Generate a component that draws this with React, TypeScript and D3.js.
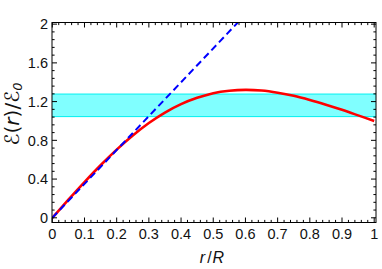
import React from "react";
import * as d3 from "d3";

const rValues = [0, 0.05, 0.1, 0.15, 0.2, 0.25, 0.3, 0.35, 0.4, 0.45, 0.5, 0.55, 0.6, 0.65, 0.7, 0.75, 0.8, 0.85, 0.9, 0.95, 1.0];
const fieldValues = [0, 0.187, 0.369, 0.543, 0.704, 0.85, 0.979, 1.087, 1.174, 1.239, 1.287, 1.312, 1.321, 1.314, 1.292, 1.26, 1.217, 1.168, 1.115, 1.058, 1.0];
const tangentR = [0, 0.62];
const tangentE = [0, 2.17];
const bandRange = [1.045, 1.278];
const xTickValues = [0, 0.1, 0.2, 0.3, 0.4, 0.5, 0.6, 0.7, 0.8, 0.9, 1];
const xTickLabels = ["0", "0.1", "0.2", "0.3", "0.4", "0.5", "0.6", "0.7", "0.8", "0.9", "1"];
const yTickValues = [0, 0.4, 0.8, 1.2, 1.6, 2];
const yTickLabels = ["0", "0.4", "0.8", "1.2", "1.6", "2"];

const W = 382, H = 269;
const L = 52, R = 376, T = 22.5, B = 222.5;

export default function App() {
  const x = d3.scaleLinear().domain([0, 1.0056]).range([L + 0.3, R]);
  const y = d3.scaleLinear().domain([-0.0485, 2.017]).range([B, T]);

  const xMinor = d3.range(0, 1.0001, 0.02).filter((v) => Math.abs(v * 10 - Math.round(v * 10)) > 1e-6);
  const yMinor = d3.range(0, 2.0001, 0.08).filter((v) => Math.abs(v / 0.4 - Math.round(v / 0.4)) > 1e-6);

  const redPts: [number, number][] = rValues.map((r, i) => [r, fieldValues[i]]);
  const bluePts: [number, number][] = tangentR.map((r, i) => [r, tangentE[i]]);
  const line = d3.line<[number, number]>().x((d) => x(d[0])).y((d) => y(d[1])).curve(d3.curveCatmullRom);
  const straight = d3.line<[number, number]>().x((d) => x(d[0])).y((d) => y(d[1]));

  const font = "'Liberation Sans', Arial, sans-serif";
  const maj = 5, mnr = 2.6;

  return (
    <svg width={W} height={H} style={{ position: "absolute", left: 0, top: 0 }}>
      <defs>
        <clipPath id="plotclip">
          <rect x={L} y={T} width={R - L} height={B - T} />
        </clipPath>
      </defs>
      <rect x={0} y={0} width={W} height={H} fill="white" />
      <g clipPath="url(#plotclip)">
        <rect x={L} y={y(bandRange[1])} width={R - L} height={y(bandRange[0]) - y(bandRange[1])} fill="#80FFFF" />
        <line x1={L} x2={R} y1={y(bandRange[1])} y2={y(bandRange[1])} stroke="#00F0F0" strokeWidth={1} />
        <line x1={L} x2={R} y1={y(bandRange[0])} y2={y(bandRange[0])} stroke="#00F0F0" strokeWidth={1} />
        <path d={line(redPts) || ""} fill="none" stroke="#FF0000" strokeWidth={2.6} />
        <path d={straight(bluePts) || ""} fill="none" stroke="#0000FF" strokeWidth={2} strokeDasharray="7,4" />
      </g>
      <rect x={L} y={T} width={R - L} height={B - T} fill="none" stroke="black" strokeWidth={1} />
      {xTickValues.map((v) => (
        <g key={"xt" + v}>
          <line x1={x(v)} x2={x(v)} y1={B} y2={B - maj} stroke="black" />
          <line x1={x(v)} x2={x(v)} y1={T} y2={T + maj} stroke="black" />
        </g>
      ))}
      {xMinor.map((v) => (
        <g key={"xm" + v}>
          <line x1={x(v)} x2={x(v)} y1={B} y2={B - mnr} stroke="black" />
          <line x1={x(v)} x2={x(v)} y1={T} y2={T + mnr} stroke="black" />
        </g>
      ))}
      {yTickValues.map((v) => (
        <g key={"yt" + v}>
          <line x1={L} x2={L + maj} y1={y(v)} y2={y(v)} stroke="black" />
          <line x1={R} x2={R - maj} y1={y(v)} y2={y(v)} stroke="black" />
        </g>
      ))}
      {yMinor.map((v) => (
        <g key={"ym" + v}>
          <line x1={L} x2={L + mnr} y1={y(v)} y2={y(v)} stroke="black" />
          <line x1={R} x2={R - mnr} y1={y(v)} y2={y(v)} stroke="black" />
        </g>
      ))}
      {xTickValues.map((v, i) => (
        <text key={"xl" + v} x={x(v)} y={239} textAnchor="middle" fontFamily={font} fontSize={14.5} fill="#111">
          {xTickLabels[i]}
        </text>
      ))}
      {yTickValues.map((v, i) => (
        <text key={"yl" + v} x={48} y={y(v)} dy="0.36em" textAnchor="end" fontFamily={font} fontSize={14.5} fill="#111">
          {yTickLabels[i]}
        </text>
      ))}
      <text x={(L + R) / 2 - 2} y={263} textAnchor="middle" fontFamily={font} fontSize={16} fill="#111">
        <tspan fontStyle="italic">r</tspan>
        <tspan dx={2}>/</tspan>
        <tspan fontStyle="italic" dx={1}>R</tspan>
      </text>
      <text transform={`translate(19,114) rotate(-90)`} textAnchor="middle" fontFamily="'DejaVu Sans', sans-serif" fontSize={20} fill="#111">
        <tspan>ℰ</tspan>
        <tspan>(</tspan>
        <tspan fontStyle="italic">r</tspan>
        <tspan>)/</tspan>
        <tspan>ℰ</tspan>
        <tspan fontStyle="italic" fontSize={13} dy={3}>0</tspan>
      </text>
    </svg>
  );
}
